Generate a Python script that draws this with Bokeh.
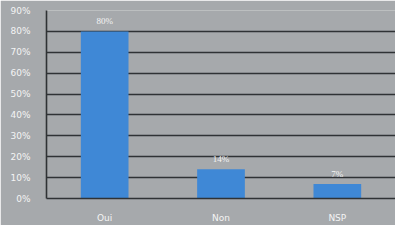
from bokeh.plotting import figure
from bokeh.models import ColumnDataSource, PrintfTickFormatter, FixedTicker, Range1d, FactorRange
from bokeh.embed import file_html
from bokeh.resources import INLINE

categories = ["Oui", "Non", "NSP"]
values = [80, 14, 7]
value_labels = ["80%", "14%", "7%"]
y_ticks = [0, 10, 20, 30, 40, 50, 60, 70, 80, 90]

BG = "#a6a9ac"
GRID = "#2f3235"
TXT = "#f4f4f4"
FONT = "DejaVu Sans"

src = ColumnDataSource(dict(cat=categories, val=values, lab=value_labels))

p = figure(width=395, height=225, x_range=FactorRange(*categories, range_padding=0),
           y_range=Range1d(0, 90), output_backend="svg", toolbar_location=None,
           background_fill_color=BG, border_fill_color=BG,
           min_border_left=46, min_border_right=0, min_border_top=10, min_border_bottom=25)
p.outline_line_color = None

p.vbar(x="cat", top="val", width=0.41, source=src, color="#3f88d6", line_color=None)
p.text(x="cat", y="val", text="lab", source=src, text_color=TXT, text_font_size="9px",
       text_align="center", text_baseline="bottom", y_offset=-5, text_font=FONT)

p.ygrid.ticker = FixedTicker(ticks=y_ticks)
p.ygrid.grid_line_color = GRID
p.ygrid.grid_line_width = 1.6
p.xgrid.grid_line_color = None

p.yaxis.ticker = FixedTicker(ticks=y_ticks)
p.yaxis.formatter = PrintfTickFormatter(format="%d%%")
p.yaxis.axis_line_color = GRID
p.yaxis.axis_line_width = 1.6
p.yaxis.major_tick_line_color = None
p.yaxis.minor_tick_line_color = None
p.yaxis.major_label_text_color = TXT
p.yaxis.major_label_text_font_size = "9px"
p.yaxis.major_label_text_font = FONT
p.yaxis.major_label_standoff = 10

p.xaxis.axis_line_color = GRID
p.xaxis.axis_line_width = 1.6
p.xaxis.major_tick_line_color = None
p.xaxis.major_label_text_color = TXT
p.xaxis.major_label_text_font_size = "9px"
p.xaxis.major_label_text_font = FONT
p.xaxis.major_label_standoff = 8

open("out.html", "w").write(file_html(p, INLINE))
